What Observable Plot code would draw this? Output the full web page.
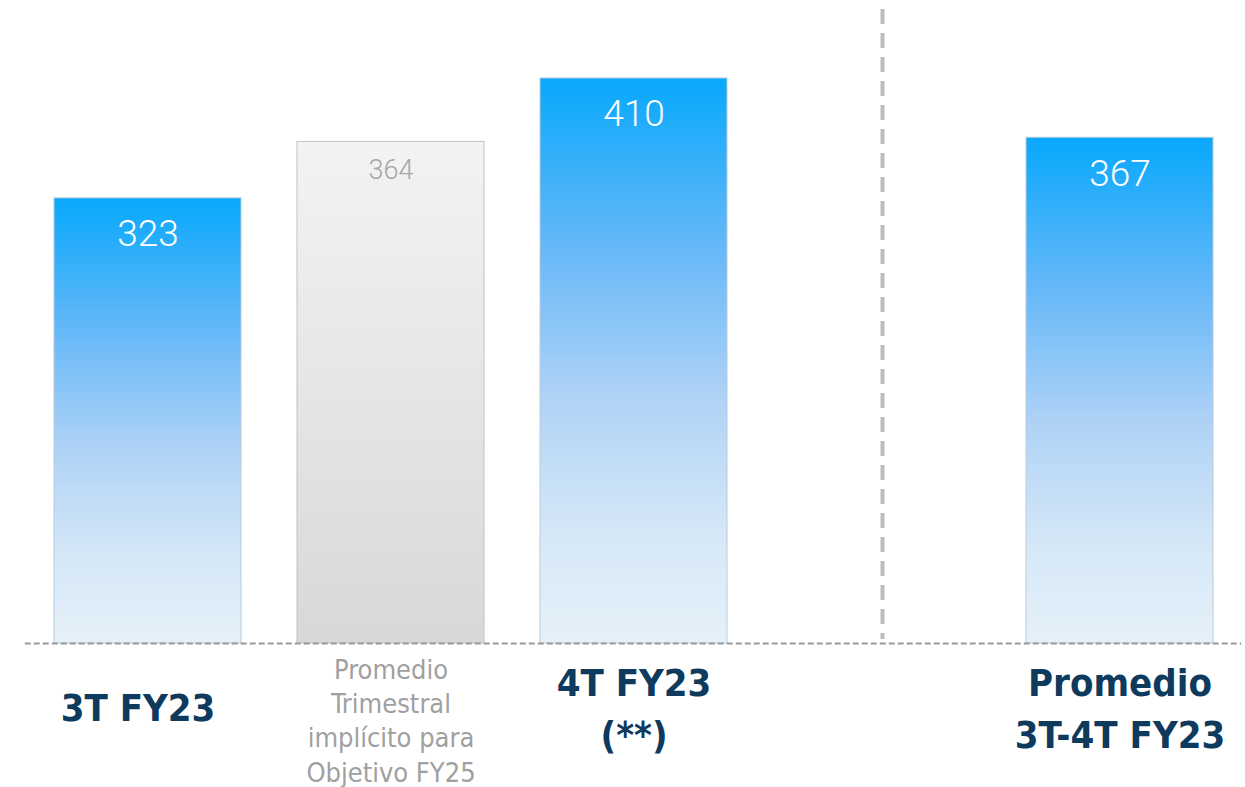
<!DOCTYPE html>
<html><head><meta charset="utf-8">
<script src="https://cdn.jsdelivr.net/npm/d3@7"></script>
<script src="https://cdn.jsdelivr.net/npm/@observablehq/plot@0.6"></script>
<style>body{margin:0;background:#fff;} #chart svg{display:block;}</style>
</head><body><div id="chart"></div>
<script>
const categories = ["3T FY23", "Promedio Trimestral implícito para Objetivo FY25", "4T FY23 (**)", "", "Promedio 3T-4T FY23"];
const values = [323, 364, 410, null, 367];
const labels = ["3T FY23", "Promedio\nTrimestral\nimplícito para\nObjetivo FY25", "4T FY23\n(**)", "", "Promedio\n3T-4T FY23"];
const kinds = ["actual", "target", "actual", "gap", "actual"];

const data = categories.map((c, i) => ({cat: c, value: values[i], label: labels[i], kind: kinds[i]})).filter(d => d.kind !== "gap");
const actual = data.filter(d => d.kind === "actual");
const target = data.filter(d => d.kind === "target");
const firstLabel = actual.filter(d => !d.label.includes("\n"));
const multiLabel = actual.filter(d => d.label.includes("\n"));

const defs = () => {
  const ns = "http://www.w3.org/2000/svg";
  const g = document.createElementNS(ns, "defs");
  g.innerHTML = `
  <linearGradient id="gBlue" x1="0" y1="0" x2="0" y2="1">
    <stop offset="0" stop-color="#08a8fc"/>
    <stop offset="0.3" stop-color="#66b8f8"/>
    <stop offset="0.56" stop-color="#aed2f6"/>
    <stop offset="0.8" stop-color="#d5e7f7"/>
    <stop offset="1" stop-color="#e5f1f9"/>
  </linearGradient>
  <linearGradient id="gGray" x1="0" y1="0" x2="0" y2="1">
    <stop offset="0" stop-color="#f3f3f3"/>
    <stop offset="1" stop-color="#d8d8d8"/>
  </linearGradient>`;
  return g;
};

const chart = Plot.plot({
  width: 1245,
  height: 787,
  marginTop: 0,
  marginBottom: 144,
  marginLeft: 24.75,
  marginRight: 3.75,
  x: {domain: categories, paddingInner: 0.232, paddingOuter: 0.116, axis: null},
  y: {domain: [0, 466.6], axis: null},
  style: {fontFamily: "DejaVu Sans Condensed", background: "#fff"},
  marks: [
    defs,
    Plot.barY(actual, {x: "cat", y: "value", fill: "url(#gBlue)", stroke: "#b9cbdb", strokeWidth: 1}),
    Plot.barY(target, {x: "cat", y: "value", fill: "url(#gGray)", stroke: "#c2c2c2", strokeWidth: 1}),
    Plot.ruleY([0], {stroke: "#999", strokeWidth: 2, strokeDasharray: "6,3"}),
    Plot.ruleX([""], {x: d => d, stroke: "#bdbdbd", strokeWidth: 4, strokeDasharray: "15,9", insetTop: 9, insetBottom: 4, dx: 5.5}),
    Plot.text(actual, {x: "cat", y: "value", text: d => String(d.value), dy: 36, fill: "#fff", fontSize: 37, fontFamily: "Roboto", fontWeight: 300}),
    Plot.text(target, {x: "cat", y: "value", text: d => String(d.value), dy: 28, fill: "#a6a6a6", fontSize: 27, fontFamily: "Roboto", fontWeight: 300}),
    Plot.text(multiLabel, {x: "cat", y: 0, text: "label", lineAnchor: "middle", lineHeight: 1.37, dy: 62, fill: "#0e3a5d", fontSize: 38, fontWeight: "bold"}),
    Plot.text(firstLabel, {x: "cat", y: 0, text: "label", lineAnchor: "middle", dy: 65, dx: -10, fill: "#0e3a5d", fontSize: 38, fontWeight: "bold"}),
    Plot.text(target, {x: "cat", y: 0, text: "label", lineAnchor: "top", lineHeight: 1.27, dy: 11, fill: "#a0a0a0", fontSize: 27})
  ]
});
document.getElementById("chart").append(chart);
</script></body></html>
